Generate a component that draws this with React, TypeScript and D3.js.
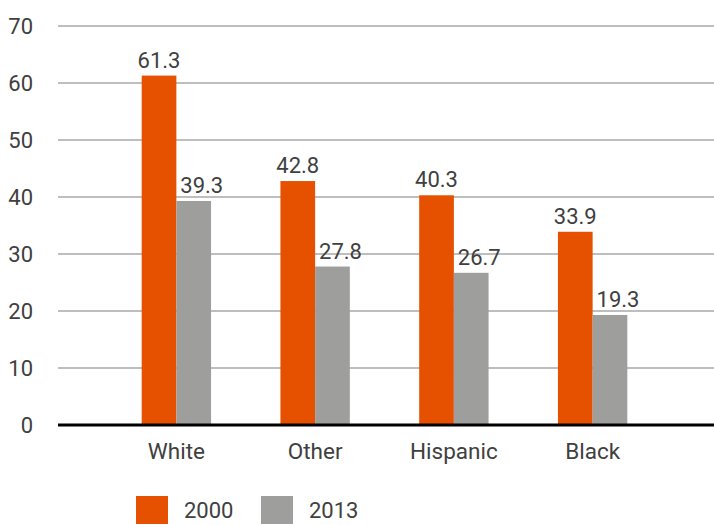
import React from "react";
import * as d3 from "d3";

const categories = ["White", "Other", "Hispanic", "Black"];
const series = ["2000", "2013"];
const values2000 = [61.3, 42.8, 40.3, 33.9];
const values2013 = [39.3, 27.8, 26.7, 19.3];
const yTicks = [0, 10, 20, 30, 40, 50, 60, 70];
const colors = ["#E65100", "#9E9E9D"];
const labelShift = [0, 8];

const W = 714;
const H = 525;
const FONT = "Roboto, 'Noto Sans', sans-serif";
const TEXT = "#404040";

export default function App() {
  const y = d3.scaleLinear().domain([0, 70]).range([425, 26]);
  const x = d3
    .scaleBand<string>()
    .domain(categories)
    .range([107, 662])
    .paddingInner(0.5)
    .paddingOuter(0.25);
  const x1 = d3.scaleBand<string>().domain(series).range([0, x.bandwidth()]);
  const data = [values2000, values2013];

  return (
    <svg
      width={W}
      height={H}
      style={{ position: "absolute", left: 0, top: 0, background: "#fff" }}
      fontFamily={FONT}
    >
      {yTicks.map((t) => (
        <g key={t}>
          {t > 0 && (
            <line x1={58} x2={714} y1={y(t)} y2={y(t)} stroke="#a8a8a8" strokeWidth={1.5} />
          )}
          <text x={33} y={y(t)} dy="0.36em" textAnchor="end" fontSize={22} fill={TEXT}>
            {t}
          </text>
        </g>
      ))}
      {categories.map((c, i) => (
        <g key={c}>
          {series.map((s, j) => {
            const v = data[j][i];
            const bx = (x(c) as number) + (x1(s) as number);
            return (
              <g key={s}>
                <rect x={bx} y={y(v)} width={x1.bandwidth()} height={y(0) - y(v)} fill={colors[j]} />
                <text
                  x={bx + x1.bandwidth() / 2 + labelShift[j]}
                  y={y(v) - 8}
                  textAnchor="middle"
                  fontSize={22}
                  fill={TEXT}
                >
                  {v.toFixed(1)}
                </text>
              </g>
            );
          })}
          <text
            x={(x(c) as number) + x.bandwidth() / 2}
            y={459}
            textAnchor="middle"
            fontSize={22.5}
            fill={TEXT}
          >
            {c}
          </text>
        </g>
      ))}
      <line x1={58} x2={714} y1={y(0)} y2={y(0)} stroke="#000" strokeWidth={3} />
      {series.map((s, j) => (
        <g key={s} transform={`translate(${136 + j * 125},496)`}>
          <rect x={0} y={0} width={32} height={28} fill={colors[j]} />
          <text x={48} y={14} dy="0.36em" fontSize={22} fill={TEXT}>
            {s}
          </text>
        </g>
      ))}
    </svg>
  );
}
